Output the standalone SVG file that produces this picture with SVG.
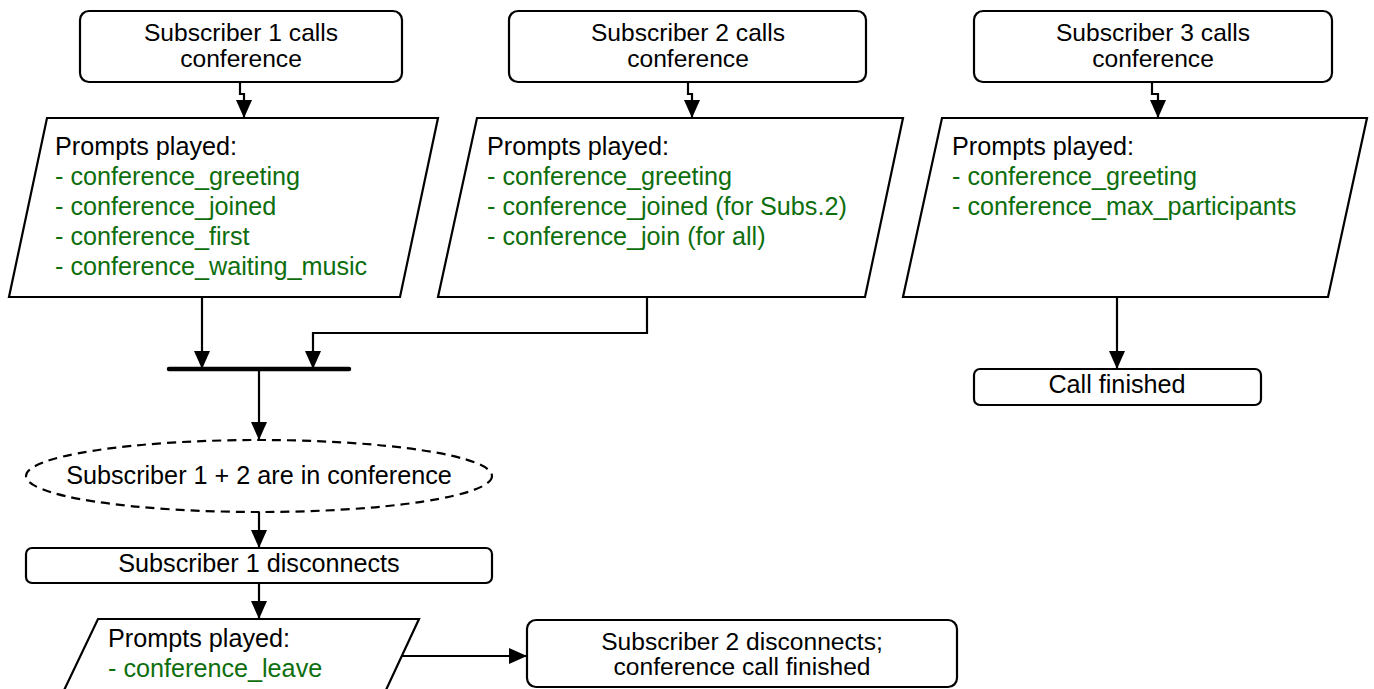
<svg xmlns="http://www.w3.org/2000/svg" width="1374" height="689" viewBox="0 0 1374 689">
<style>
.box{fill:#fff;stroke:#000;stroke-width:2.2}
.t{font-family:"Liberation Sans",Arial,sans-serif;font-size:25.2px;fill:#000}
.s{font-size:24.6px}
.c{text-anchor:middle}
.g{fill:#0e6e0e}
.ln{fill:none;stroke:#000;stroke-width:2.2}
</style>
<defs>
<marker id="arr" viewBox="0 0 18 16" refX="18" refY="8" markerWidth="18" markerHeight="16" markerUnits="userSpaceOnUse" orient="auto"><path d="M0,0 L18,8 L0,16 z" fill="#000"/></marker>
</defs>
<rect width="1374" height="689" fill="#fff"/>
<g id="connectors">
<path class="ln" d="M240,82 V94 H244 V118" marker-end="url(#arr)"/>
<path class="ln" d="M688,82 V94 H692 V118" marker-end="url(#arr)"/>
<path class="ln" d="M1152,82 V94 H1158 V118" marker-end="url(#arr)"/>
<path class="ln" d="M202,297 V369" marker-end="url(#arr)"/>
<path class="ln" d="M647,297 V333 H313 V369" marker-end="url(#arr)"/>
<path class="ln" d="M259,369 V440" marker-end="url(#arr)"/>
<path class="ln" d="M259,512 V548" marker-end="url(#arr)"/>
<path class="ln" d="M259,583 V619" marker-end="url(#arr)"/>
<path class="ln" d="M401,656 H527" marker-end="url(#arr)"/>
<path class="ln" d="M1117,297 V369" marker-end="url(#arr)"/>
</g>
<g id="sub1">
<rect class="box" x="80" y="11" width="322" height="71" rx="9"/>
<text class="t s c" x="241" y="41">Subscriber 1 calls</text>
<text class="t s c" x="241" y="66.5">conference</text>
</g>
<g id="sub2">
<rect class="box" x="509" y="11" width="357" height="71" rx="9"/>
<text class="t s c" x="688" y="41">Subscriber 2 calls</text>
<text class="t s c" x="688" y="66.5">conference</text>
</g>
<g id="sub3">
<rect class="box" x="974" y="11" width="358" height="71" rx="9"/>
<text class="t s c" x="1153" y="41">Subscriber 3 calls</text>
<text class="t s c" x="1153" y="66.5">conference</text>
</g>
<g id="prompts1">
<polygon class="box" points="47,118 438,118 400,297 9,297"/>
<text class="t" x="55" y="155">Prompts played:</text>
<text class="t g" x="55" y="185">- conference_greeting</text>
<text class="t g" x="55" y="215">- conference_joined</text>
<text class="t g" x="55" y="245">- conference_first</text>
<text class="t g" x="55" y="275">- conference_waiting_music</text>
</g>
<g id="prompts2">
<polygon class="box" points="477,118 903,118 865,297 438,297"/>
<text class="t" x="487" y="155">Prompts played:</text>
<text class="t g" x="487" y="185">- conference_greeting</text>
<text class="t g" x="487" y="215">- conference_joined (for Subs.2)</text>
<text class="t g" x="487" y="245">- conference_join (for all)</text>
</g>
<g id="prompts3">
<polygon class="box" points="942,118 1367,118 1328,297 903,297"/>
<text class="t" x="952" y="155">Prompts played:</text>
<text class="t g" x="952" y="185">- conference_greeting</text>
<text class="t g" x="952" y="215">- conference_max_participants</text>
</g>
<g id="join-bar">
<line x1="169" y1="369" x2="349" y2="369" stroke="#000" stroke-width="4.5" stroke-linecap="round"/>
</g>
<g id="callfinished">
<rect class="box" x="974" y="369" width="287" height="36" rx="6"/>
<text class="t c" x="1117" y="393">Call finished</text>
</g>
<g id="inconference">
<ellipse cx="259" cy="476" rx="233" ry="36" fill="#fff" stroke="#000" stroke-width="2.2" stroke-dasharray="9,6"/>
<text class="t c" x="259" y="484">Subscriber 1 + 2 are in conference</text>
</g>
<g id="sub1disc">
<rect class="box" x="26" y="548" width="466" height="35" rx="6"/>
<text class="t c" x="259" y="572">Subscriber 1 disconnects</text>
</g>
<g id="prompts4">
<polygon class="box" points="98,619 419,619 379,705 57,705"/>
<text class="t" x="108" y="647">Prompts played:</text>
<text class="t g" x="108" y="677">- conference_leave</text>
</g>
<g id="sub2disc">
<rect class="box" x="527" y="620" width="430" height="67" rx="9"/>
<text class="t s c" x="742" y="649.5">Subscriber 2 disconnects;</text>
<text class="t s c" x="742" y="675">conference call finished</text>
</g>
</svg>
